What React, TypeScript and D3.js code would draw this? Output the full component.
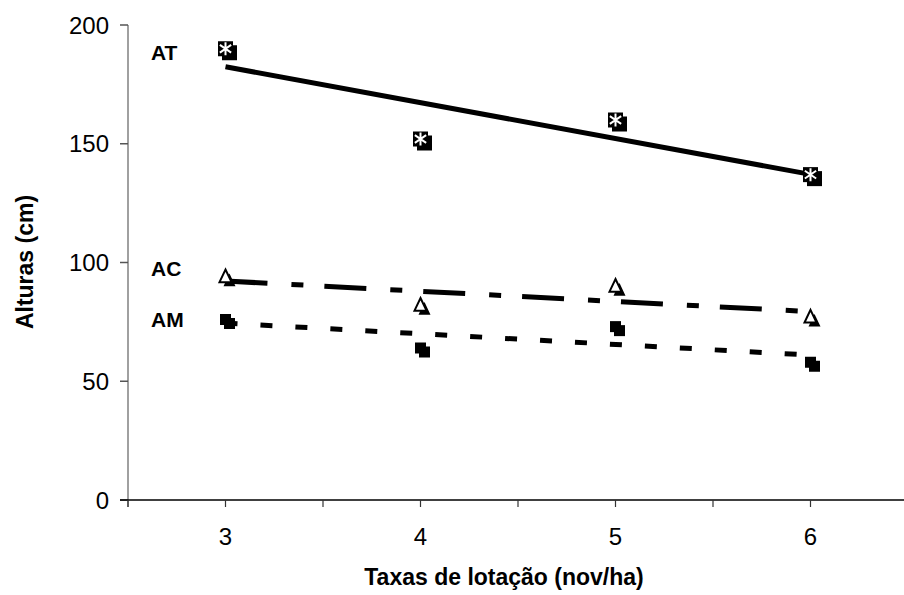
import React from "react";
import * as d3 from "d3";

const xValues = [3, 4, 5, 6];
const atValues = [190, 152, 160, 137];
const acValues = [94, 82, 90, 77];
const amValues = [76, 64, 73, 58];
const yTicks = [0, 50, 100, 150, 200];
const xTickMarks = [2.5, 3, 3.5, 4, 4.5, 5, 5.5, 6, 6.5];
const xTickLabels = [3, 4, 5, 6];
const seriesNames = ["AT", "AC", "AM"];

const W = 904;
const H = 595;

function fit(xs: number[], ys: number[]) {
  const mx = d3.mean(xs) as number;
  const my = d3.mean(ys) as number;
  let num = 0, den = 0;
  xs.forEach((x, i) => {
    num += (x - mx) * (ys[i] - my);
    den += (x - mx) * (x - mx);
  });
  const b = num / den;
  const a = my - b * mx;
  return (x: number) => a + b * x;
}

export default function App() {
  const x = d3.scaleLinear().domain([2.5, 6.5]).range([128, 908]);
  const y = d3.scaleLinear().domain([0, 200]).range([500, 25]);
  const xMin = d3.min(xValues) as number;
  const xMax = d3.max(xValues) as number;
  const line = d3.line<[number, number]>().x((d) => x(d[0])).y((d) => y(d[1]));

  const trend = (vals: number[]) => {
    const f = fit(xValues, vals);
    return line([
      [xMin, f(xMin)],
      [xMax, f(xMax)],
    ]) as string;
  };

  const font = "Liberation Sans, Arial, sans-serif";
  const sh = 4;

  const star = (cx: number, cy: number, r: number) =>
    `M${cx},${cy - r}L${cx},${cy + r}M${cx - r * 0.87},${cy - r * 0.6}L${cx + r * 0.87},${cy + r * 0.6}M${cx - r * 0.87},${cy + r * 0.6}L${cx + r * 0.87},${cy - r * 0.6}`;
  const tri = (cx: number, cy: number, s: number) =>
    `M${cx},${cy - s * 0.6}L${cx + s / 2},${cy + s * 0.45}L${cx - s / 2},${cy + s * 0.45}Z`;

  const labelY = [y(atValues[0]) + 4, y(acValues[0]) - 8, y(amValues[0])];

  return (
    <svg width={W} height={H} style={{ position: "absolute", left: 0, top: 0, background: "#fff" }}>
      {/* axes */}
      <line x1={128} x2={128} y1={25} y2={507} stroke="#808080" strokeWidth={1.5} />
      {yTicks.map((t) => (
        <g key={"yt" + t}>
          <line x1={120} x2={128} y1={y(t)} y2={y(t)} stroke="#555" strokeWidth={1.5} />
          <text x={109} y={y(t)} dy="0.36em" textAnchor="end" fontFamily={font} fontSize={24} fill="#000">
            {t}
          </text>
        </g>
      ))}
      <line x1={120} x2={W} y1={500} y2={500} stroke="#000" strokeWidth={1.5} />
      {xTickMarks.map((t) => (
        <line key={"xt" + t} x1={x(t)} x2={x(t)} y1={500} y2={507} stroke="#333" strokeWidth={1.2} />
      ))}
      {xTickLabels.map((t) => (
        <text key={"xl" + t} x={x(t)} y={545} textAnchor="middle" fontFamily={font} fontSize={24} fill="#000">
          {t}
        </text>
      ))}
      <text x={504} y={585} textAnchor="middle" fontFamily={font} fontSize={23} fontWeight="bold">
        Taxas de lotação (nov/ha)
      </text>
      <text
        transform={`translate(33,262) rotate(-90)`}
        textAnchor="middle"
        fontFamily={font}
        fontSize={23}
        fontWeight="bold"
      >
        Alturas (cm)
      </text>

      {/* trend lines */}
      <path d={trend(atValues)} stroke="#000" strokeWidth={5} fill="none" />
      <path d={trend(acValues)} stroke="#000" strokeWidth={5} fill="none" strokeDasharray="42 24 12 21" />
      <path d={trend(amValues)} stroke="#000" strokeWidth={5} fill="none" strokeDasharray="12 23" />

      {/* AT markers */}
      {xValues.map((xv, i) => {
        const cx = x(xv), cy = y(atValues[i]);
        return (
          <g key={"at" + i}>
            <rect x={cx - 7.5 + sh} y={cy - 7.5 + sh} width={15} height={15} fill="#000" />
            <rect x={cx - 7.5} y={cy - 7.5} width={15} height={15} fill="#000" />
            <path d={star(cx, cy, 6.5)} stroke="#fff" strokeWidth={2} />
          </g>
        );
      })}
      {/* AC markers */}
      {xValues.map((xv, i) => {
        const cx = x(xv), cy = y(acValues[i]);
        return (
          <g key={"ac" + i}>
            <path d={tri(cx + sh, cy + sh, 12)} fill="#000" />
            <path d={tri(cx, cy, 12)} fill="#fff" stroke="#000" strokeWidth={2} />
          </g>
        );
      })}
      {/* AM markers */}
      {xValues.map((xv, i) => {
        const cx = x(xv), cy = y(amValues[i]);
        return (
          <g key={"am" + i}>
            <rect x={cx - 5.5 + sh} y={cy - 5.5 + sh} width={11} height={11} fill="#000" />
            <rect x={cx - 5.5} y={cy - 5.5} width={11} height={11} fill="#000" />
          </g>
        );
      })}

      {/* series labels */}
      {seriesNames.map((n, i) => (
        <text key={n} x={151} y={labelY[i]} dy="0.36em" fontFamily={font} fontSize={21} fontWeight="bold">
          {n}
        </text>
      ))}
    </svg>
  );
}
